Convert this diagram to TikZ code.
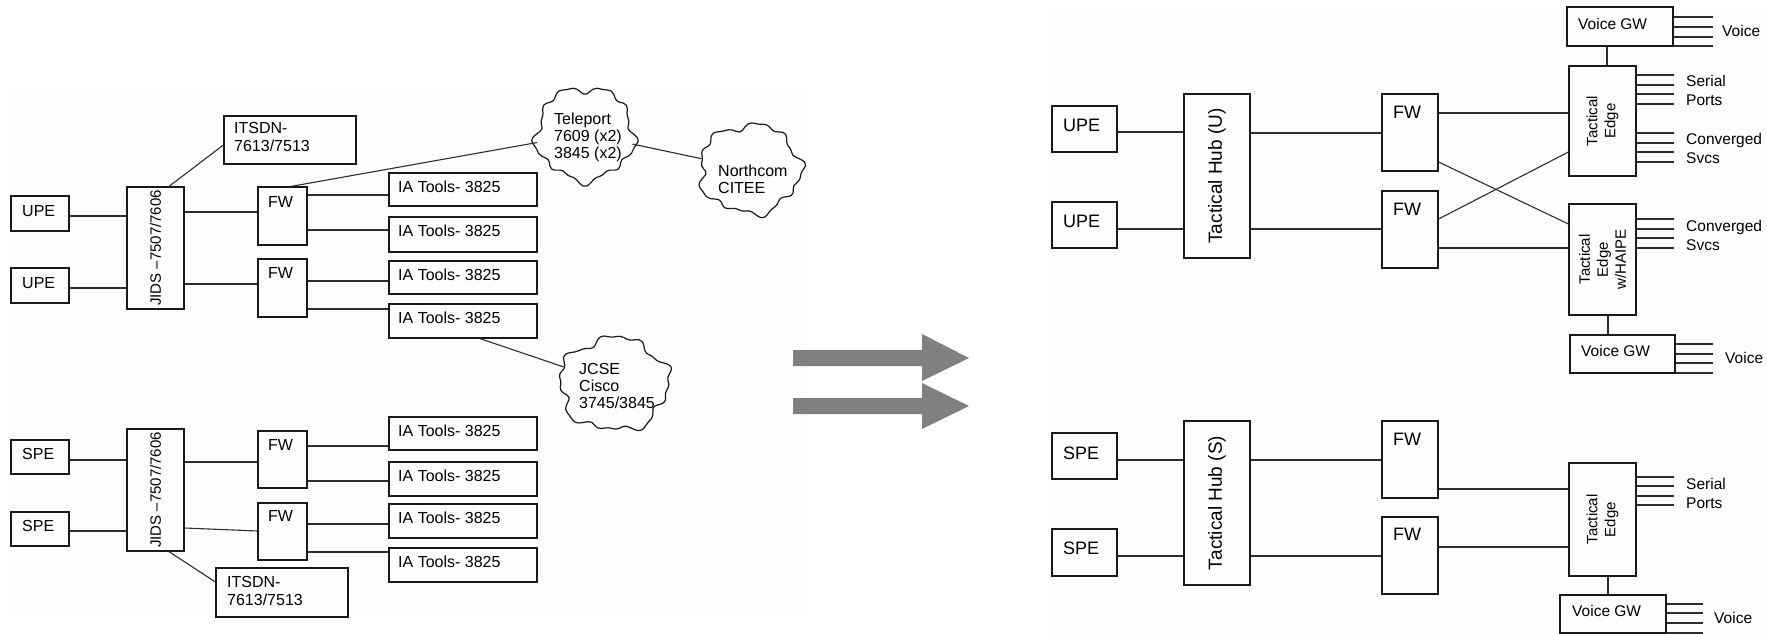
\documentclass[tikz,border=0pt]{standalone}
\usepackage{fontspec}
\setmainfont{Liberation Sans}
\usetikzlibrary{shapes.geometric}

\definecolor{ink}{RGB}{25,25,25}
\definecolor{wirec}{RGB}{45,45,45}
\definecolor{panel}{RGB}{253,253,253}
\definecolor{arrowc}{RGB}{128,128,128}

% font size helper (size, baselineskip)
\newcommand\fnt[2]{\fontsize{#1}{#2}\selectfont}
% box from its corners: name, x1, y1, x2, y2
\newcommand\bx[5]{\node[box, minimum width={#4-#2}, minimum height={#5-#3}] (#1) at ({(#2+#4)/2},{(#3+#5)/2}) {};}
% irregular cloud outline: cx, cy, rx, ry, phase
\newcommand\blob[5]{\draw[cloudline] plot[smooth cycle, samples=90, domain=0:356, variable=\t]
  ({#1+#3*(1+0.06*sin(5*\t+#5)+0.05*sin(9*\t+2*#5)+0.03*sin(17*\t+3*#5))*cos(\t)},
   {#2+#4*(1+0.06*sin(5*\t+#5)+0.05*sin(9*\t+2*#5)+0.03*sin(17*\t+3*#5))*sin(\t)});}

\begin{document}
\begin{tikzpicture}[x=1pt, y=-1pt,
  box/.style={draw=ink, line width=1.2pt, rectangle, inner sep=0pt},
  wire/.style={draw=wirec, line width=1.1pt},
  cloudline/.style={draw=ink, line width=1.2pt},
  cloudnode/.style={ellipse, inner sep=0pt},
  tl/.style={anchor=north west, inner sep=0pt, align=left},
  lt/.style={tl, font=\fnt{16}{18}},
  rt/.style={tl, font=\fnt{18}{20}},
  port/.style={anchor=base west, inner sep=0pt, font=\fnt{15.5}{17}},
  vert/.style={rotate=90, inner sep=0pt, align=center}]

\useasboundingbox (0,0) rectangle (1767,634);

% faint background panels
\fill[panel] (10,85) rectangle (810,618);
\fill[panel] (1050,5) rectangle (1767,634);

% ---------------- left: current network ----------------
\bx{upeA}{11}{196}{69}{231}
\bx{upeB}{11}{268}{69}{303}
\bx{jidsA}{127}{187}{184}{309}
\bx{itsdnA}{224}{116}{356}{164}
\bx{fwA}{258}{187}{307}{245}
\bx{fwB}{258}{259}{307}{317}
\bx{iaA}{389}{173}{537}{206}
\bx{iaB}{389}{217}{537}{252}
\bx{iaC}{389}{261}{537}{294}
\bx{iaD}{389}{304}{537}{338}

\bx{speA}{11}{440}{69}{474}
\bx{speB}{11}{512}{69}{546}
\bx{jidsB}{127}{429}{184}{551}
\bx{itsdnB}{216}{568}{348}{617}
\bx{fwC}{258}{431}{307}{488}
\bx{fwD}{258}{503}{307}{560}
\bx{iaE}{389}{417}{537}{450}
\bx{iaF}{389}{462}{537}{496}
\bx{iaG}{389}{504}{537}{538}
\bx{iaH}{389}{548}{537}{582}

\node[lt] (tUpeA) at (22,205) {UPE};
\node[lt] (tUpeB) at (22,277) {UPE};
\node[lt] (tSpeA) at (22,448) {SPE};
\node[lt] (tSpeB) at (22,520) {SPE};
\node[vert, font=\fnt{15}{17}] (tJidsA) at (jidsA) {JIDS –7507/7606};
\node[vert, font=\fnt{15}{17}] (tJidsB) at (jidsB) {JIDS –7507/7606};
\node[lt] (tItsA) at (234,122) {ITSDN-\\7613/7513};
\node[lt] (tItsB) at (227,576) {ITSDN-\\7613/7513};
\node[lt] (tFwA) at (268,196) {FW};
\node[lt] (tFwB) at (268,267) {FW};
\node[lt] (tFwC) at (268,439) {FW};
\node[lt] (tFwD) at (268,510) {FW};
\node[lt] (tIaA) at (398,180.5) {IA Tools- 3825};
\node[lt] (tIaB) at (398,224.5) {IA Tools- 3825};
\node[lt] (tIaC) at (398,268.5) {IA Tools- 3825};
\node[lt] (tIaD) at (398,311.5) {IA Tools- 3825};
\node[lt] (tIaE) at (398,424.5) {IA Tools- 3825};
\node[lt] (tIaF) at (398,469.5) {IA Tools- 3825};
\node[lt] (tIaG) at (398,511.5) {IA Tools- 3825};
\node[lt] (tIaH) at (398,555.5) {IA Tools- 3825};

% clouds
\node[cloudnode, minimum width=97, minimum height=92] (tele) at (585,134) {};
\blob{585}{134}{48.5}{46}{0}
\node[tl, font=\fnt{16}{17}] (tTele) at (554,113) {Teleport\\7609 (x2)\\3845 (x2)};
\node[cloudnode, minimum width=100, minimum height=88] (ncom) at (750,169) {};
\blob{750}{169}{50}{44}{70}
\node[tl, font=\fnt{16}{17}] (tNcom) at (718,165) {Northcom\\CITEE};
\node[cloudnode, minimum width=108, minimum height=92] (jcse) at (614,384) {};
\blob{614}{384}{54}{46}{140}
\node[tl, font=\fnt{16}{17}] (tJcse) at (579,363) {JCSE\\Cisco\\3745/3845};

% left connectors
\draw[wire] (upeA.east |- 0,216) -- (jidsA.west |- 0,216);
\draw[wire] (upeB.east |- 0,288) -- (jidsA.west |- 0,288);
\draw[wire] (jidsA.east |- 0,212) -- (fwA.west |- 0,212);
\draw[wire] (jidsA.east |- 0,284) -- (fwB.west |- 0,284);
\draw[wire] (fwA.east |- 0,195) -- (iaA.west |- 0,195);
\draw[wire] (fwA.east |- 0,230) -- (iaB.west |- 0,230);
\draw[wire] (fwB.east |- 0,281) -- (iaC.west |- 0,281);
\draw[wire] (fwB.east |- 0,309) -- (iaD.west |- 0,309);
\draw[wire] (jidsA.north -| 169,0) -- (itsdnA.west |- 0,145);
\draw[wire] (fwA.north -| 291,0) -- (tele);
\draw[wire] (tele) -- (ncom);
\draw[wire] (iaD.south -| 480,0) -- (jcse);

\draw[wire] (speA.east |- 0,460) -- (jidsB.west |- 0,460);
\draw[wire] (speB.east |- 0,531) -- (jidsB.west |- 0,531);
\draw[wire] (jidsB.east |- 0,462) -- (fwC.west |- 0,462);
\draw[wire] (jidsB.east |- 0,528) -- (fwD.west |- 0,531);
\draw[wire] (fwC.east |- 0,446) -- (iaE.west |- 0,446);
\draw[wire] (fwC.east |- 0,481) -- (iaF.west |- 0,481);
\draw[wire] (fwD.east |- 0,524) -- (iaG.west |- 0,524);
\draw[wire] (fwD.east |- 0,552) -- (iaH.west |- 0,552);
\draw[wire] (jidsB.south -| 169,0) -- (itsdnB.west |- 0,582);

% ---------------- transition arrows ----------------
\fill[arrowc] (793,350) -- (922,350) -- (922,334) -- (969,358) -- (922,381) -- (922,366) -- (793,366) -- cycle;
\fill[arrowc] (793,398) -- (922,398) -- (922,383) -- (969,406) -- (922,429) -- (922,414) -- (793,414) -- cycle;

% ---------------- right: tactical network ----------------
\bx{upeR}{1052}{106}{1117}{152}
\bx{upeS}{1052}{202}{1117}{248}
\bx{hubU}{1184}{94}{1250}{258}
\bx{fwR}{1382}{94}{1438}{171}
\bx{fwS}{1382}{191}{1438}{268}
\bx{edgeA}{1569}{66}{1636}{176}
\bx{edgeH}{1569}{204}{1636}{315}
\bx{gwA}{1567}{7}{1673}{46}
\bx{gwB}{1570}{335}{1675}{373}

\bx{speR}{1052}{433}{1117}{479}
\bx{speS}{1052}{529}{1117}{576}
\bx{hubS}{1184}{421}{1250}{585}
\bx{fwT}{1382}{421}{1438}{498}
\bx{fwU}{1382}{517}{1438}{594}
\bx{edgeS}{1569}{463}{1636}{576}
\bx{gwC}{1560}{595}{1666}{633}

\node[rt] (tUpeR) at (1063,119) {UPE};
\node[rt] (tUpeS) at (1063,215) {UPE};
\node[rt] (tSpeR) at (1063,447) {SPE};
\node[rt] (tSpeS) at (1063,542) {SPE};
\node[rt] (tFwR) at (1393,106) {FW};
\node[rt] (tFwS) at (1393,203) {FW};
\node[rt] (tFwT) at (1393,433) {FW};
\node[rt] (tFwU) at (1393,528) {FW};
\node[vert, font=\fnt{19}{21}] (tHubU) at (hubU) {Tactical Hub (U)};
\node[vert, font=\fnt{19}{21}] (tHubS) at (hubS) {Tactical Hub (S)};
\node[vert, font=\fnt{15}{18}] (tEdgeA) at (edgeA) {Tactical\\Edge};
\node[vert, font=\fnt{15}{18}] (tEdgeH) at (edgeH) {Tactical\\Edge\\w/HAIPE};
\node[vert, font=\fnt{15}{18}] (tEdgeS) at (edgeS) {Tactical\\Edge};
\node[tl, font=\fnt{15.5}{17}] (tGwA) at (1578,18) {Voice GW};
\node[tl, font=\fnt{15.5}{17}] (tGwB) at (1581,345) {Voice GW};
\node[tl, font=\fnt{15.5}{17}] (tGwC) at (1572,605) {Voice GW};

% right connectors
\draw[wire] (upeR.east |- 0,132) -- (hubU.west |- 0,132);
\draw[wire] (upeS.east |- 0,229) -- (hubU.west |- 0,229);
\draw[wire] (hubU.east |- 0,133) -- (fwR.west |- 0,133);
\draw[wire] (hubU.east |- 0,229) -- (fwS.west |- 0,229);
\draw[wire] (fwR.east |- 0,113) -- (edgeA.west |- 0,113);
\draw[wire] (fwR.east |- 0,162) -- (edgeH.west |- 0,224);
\draw[wire] (fwS.east |- 0,219) -- (edgeA.west |- 0,152);
\draw[wire] (fwS.east |- 0,248) -- (edgeH.west |- 0,248);
\draw[wire] (gwA.south -| 1607,0) -- (edgeA.north -| 1607,0);
\draw[wire] (edgeH.south -| 1608,0) -- (gwB.north -| 1608,0);

\draw[wire] (speR.east |- 0,460) -- (hubS.west |- 0,460);
\draw[wire] (speS.east |- 0,556) -- (hubS.west |- 0,556);
\draw[wire] (hubS.east |- 0,460) -- (fwT.west |- 0,460);
\draw[wire] (hubS.east |- 0,556) -- (fwU.west |- 0,556);
\draw[wire] (fwT.east |- 0,489) -- (edgeS.west |- 0,489);
\draw[wire] (fwU.east |- 0,547) -- (edgeS.west |- 0,547);
\draw[wire] (edgeS.south -| 1608,0) -- (gwC.north -| 1608,0);

% port stubs
\foreach \yy in {75,85,94,104,133,143,152,162} \draw[wire] (edgeA.east |- 0,\yy) -- ++(37,0);
\foreach \yy in {219,229,238,248} \draw[wire] (edgeH.east |- 0,\yy) -- ++(37,0);
\foreach \yy in {477,486,496,505} \draw[wire] (edgeS.east |- 0,\yy) -- ++(37,0);
\foreach \yy in {17,27,37,46} \draw[wire] (gwA.east |- 0,\yy) -- ++(39,0);
\foreach \yy in {344,354,363,373} \draw[wire] (gwB.east |- 0,\yy) -- ++(37,0);
\foreach \yy in {604,613,623,633} \draw[wire] (gwC.east |- 0,\yy) -- ++(36,0);

\node[port] (pA1) at (1686,87) {Serial};
\node[port] (pA2) at (1686,106) {Ports};
\node[port] (pA3) at (1686,144) {Converged};
\node[port] (pA4) at (1686,163) {Svcs};
\node[port] (pH1) at (1686,231) {Converged};
\node[port] (pH2) at (1686,250) {Svcs};
\node[port] (pS1) at (1686,489) {Serial};
\node[port] (pS2) at (1686,508) {Ports};
\node[port] (vA) at (1722,37) {Voice};
\node[port] (vB) at (1725,363) {Voice};
\node[port] (vC) at (1714,623) {Voice};
\end{tikzpicture}
\end{document}
